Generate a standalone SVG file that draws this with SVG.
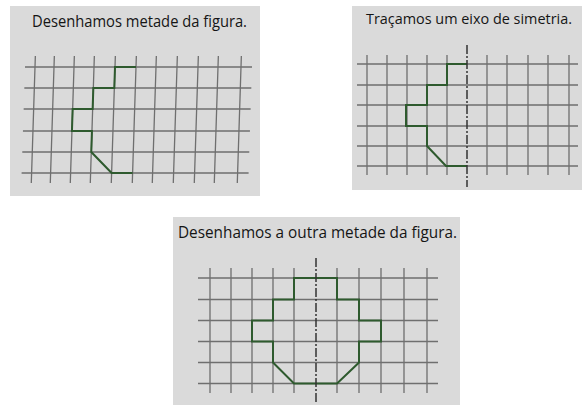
<svg xmlns="http://www.w3.org/2000/svg" width="584" height="407" viewBox="0 0 584 407">
<style>
.bg{fill:#dadada}
.grid{stroke:#6f6f6f;stroke-width:1.3;fill:none}
.fig{stroke:#2e5a2e;stroke-width:2;fill:none;stroke-linejoin:miter}
.axis{stroke:#333;stroke-width:1.5;stroke-dasharray:9 2 2 2;fill:none}
.title{font-family:"Open Sans","Liberation Sans",sans-serif;fill:#151515}
</style>
<rect width="584" height="407" fill="#ffffff"/>

<g id="panel1">
<rect class="bg" x="10" y="6" width="250" height="190"/>
<text class="title" x="32" y="27" font-size="17" textLength="215" lengthAdjust="spacingAndGlyphs">Desenhamos metade da figura.</text>
<g transform="matrix(1 0 -0.032 1 2.14 0)">
<path class="grid" d="M35 56V183M54 56V183M74 56V183M94 56V183M115 56V183M136 56V183M156 56V183M177 56V183M198 56V183M218 56V183M241 56V183M25 67H252M25 88H252M25 109H252M25 131H252M25 152H252M25 173H252"/>
<path class="fig" d="M136 67H115V88H94V109H74V131H94V152L115 173H136"/>
</g>
</g>

<g id="panel2">
<rect class="bg" x="352" y="6" width="230" height="184"/>
<text class="title" x="366" y="24" font-size="15" textLength="206" lengthAdjust="spacingAndGlyphs">Traçamos um eixo de simetria.</text>
<path class="grid" d="M367 55V175M387 55V175M407 55V175M427 55V175M447 55V175M487 55V175M507 55V175M528 55V175M548 55V175M569 55V175M357 64H578M357 85H578M357 105H578M357 126H578M357 146H578M357 166H578"/>
<path class="fig" d="M467 64H447V85H427V105H406V126H427V146L446 166H467"/>
<path class="axis" d="M467 45V187"/>
</g>

<g id="panel3">
<rect class="bg" x="173" y="217" width="287" height="188"/>
<text class="title" x="178" y="238" font-size="16" textLength="279" lengthAdjust="spacingAndGlyphs">Desenhamos a outra metade da figura.</text>
<path class="grid" d="M210 268V393M231 268V393M252 268V393M273 268V393M294 268V393M337 268V393M359 268V393M381 268V393M404 268V393M427 268V393M198 278H438M198 299.5H438M198 320.5H438M198 341.5H438M198 362.5H438M198 383.5H438"/>
<path class="fig" d="M294 278H337V299.5H359V320.5H381V341.5H359V362.5L337 383.5H294L273 362.5V341.5H252V320.5H273V299.5H294Z"/>
<path class="axis" d="M316 258V402"/>
</g>
</svg>
